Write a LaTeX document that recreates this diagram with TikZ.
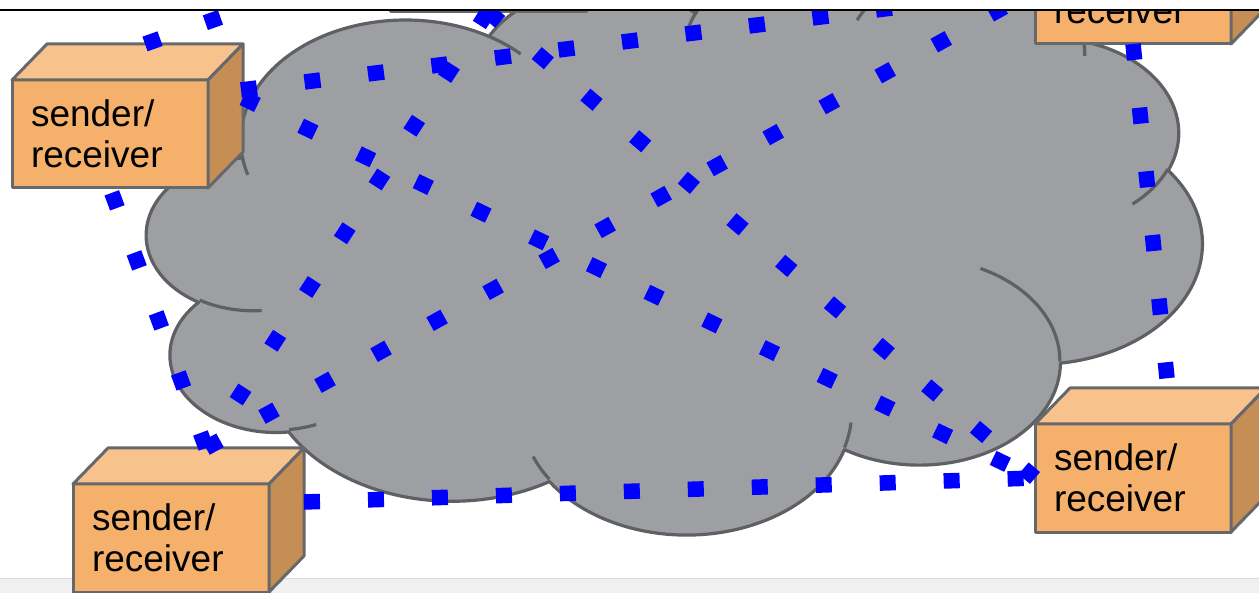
\documentclass[tikz,border=0pt]{standalone}
\usepackage{fontspec}
\setmainfont{Liberation Sans}
\usetikzlibrary{calc}

\definecolor{cloudfill}{HTML}{9E9FA3}
\definecolor{cloudline}{HTML}{5F6064}
\definecolor{boxfront}{HTML}{F5B16C}
\definecolor{boxtop}{HTML}{F7C28B}
\definecolor{boxside}{HTML}{C58E55}
\definecolor{boxline}{HTML}{67686B}
\definecolor{bandfill}{HTML}{F0F0F0}
\definecolor{bandline}{HTML}{DADADA}
\definecolor{linkblue}{HTML}{0000FF}

% OOXML-style arc: visual angles -> parametric angles
\newcommand\ooang[6]{%
  \pgfmathsetmacro\ootmpa{#5}%
  \pgfmathsetmacro\ootmpb{#5+#6}%
  \pgfmathsetmacro\ootmps{atan2(#3*sin(\ootmpa),#4*cos(\ootmpa))}%
  \pgfmathsetmacro\ootmpe{atan2(#3*sin(\ootmpb),#4*cos(\ootmpb))}%
  \pgfmathsetmacro\ootmpe{(\ootmpe<\ootmps)?(\ootmpe+360):(\ootmpe)}%
  \xdef#1{\ootmps}\xdef#2{\ootmpe}%
}

\tikzset{
  face/.style={draw=boxline, fill=boxfront, line width=3pt, minimum width=196pt,
    minimum height=108pt, inner sep=0pt, outer sep=0pt, anchor=north west,
    text width=158pt, align=left, font=\fontsize{37}{41}\selectfont, line join=round},
  topface/.style={draw=boxline, fill=boxtop, line width=3pt, line join=round},
  sideface/.style={draw=boxline, fill=boxside, line width=3pt, line join=round},
  link/.style={draw=linkblue, line width=15.5pt, dash pattern=on 16pt off 48pt, line cap=butt},
  cloudshape/.style={draw=cloudline, fill=cloudfill, line width=3.2pt, line join=round},
  cloudarc/.style={draw=cloudline, line width=3.2pt},
}

\newcommand\drawcube[4]{%
  \node[face] (#1) at (#2,#3) {#4};
  \draw[topface] (#1.north west) -- ++(35,-36) -- ++(196,0) -- (#1.north east) -- cycle;
  \draw[sideface] (#1.north east) -- ++(35,-36) -- ++(0,108) -- (#1.south east) -- cycle;
}

\begin{document}
\begin{tikzpicture}[x=1pt,y=-1pt]
\useasboundingbox (0,0) rectangle (1259,593);

% bottom band
\fill[bandfill] (-10,578) rectangle (1270,600);
\draw[bandline, line width=1.5pt] (-10,578.5) -- (1270,578.5);

% cloud (OOXML cloud geometry)
\ooang\oAs\oAe{67.53}{91.90}{-190.4875}{123.7805}
\ooang\oBs\oBe{53.33}{72.67}{-144.1024}{89.9452}
\ooang\oCs\oCe{43.65}{59.45}{-145.8079}{99.7230}
\ooang\oDs\oDe{48.57}{65.95}{-130.9861}{117.2417}
\ooang\oEs\oEe{53.33}{72.73}{-78.7089}{109.0269}
\ooang\oFs\oFe{67.75}{92.20}{-46.2673}{130.2690}
\ooang\oGs\oGe{57.85}{78.67}{0.6250}{114.0333}
\ooang\oHs\oHe{67.52}{92.15}{22.4516}{115.1726}
\ooang\oIs\oIe{77.20}{105.43}{66.2426}{75.7110}
\ooang\oJs\oJe{43.60}{59.18}{-274.9421}{146.7356}
\ooang\oKs\oKe{43.45}{59.45}{-246.8285}{152.5189}
\ooang\iAs\iAe{43.45}{59.45}{86.7420}{26.4295}
\ooang\iBs\iBe{43.60}{59.18}{73.6105}{11.4475}
\ooang\iCs\iCe{67.52}{92.15}{137.6242}{14.0811}
\ooang\iDs\iDe{67.52}{92.15}{6.4533}{15.9984}
\ooang\iEs\iEe{57.85}{78.67}{-70.2924}{70.9174}
\ooang\iFs\iFe{53.33}{72.73}{30.3180}{27.7515}
\ooang\iGs\iGe{48.57}{65.95}{-13.7443}{14.8589}
\ooang\iHs\iHe{48.57}{65.95}{-149.1815}{18.1954}
\ooang\iIs\iIe{43.65}{59.45}{-163.4943}{17.6864}
\ooang\iJs\iJe{67.53}{91.90}{-66.7070}{12.3194}
\ooang\iKs\iKe{67.53}{91.90}{157.6544}{11.8582}

\begin{scope}[shift={(147pt,31.5pt)}, x=1pt, y=1pt, xscale=2.44213, yscale=-1.30671]
\draw[cloudshape] (39.00,143.70)
  arc[start angle=\oAs, end angle=\oAe, x radius=67.53, y radius=91.90]
  arc[start angle=\oBs, end angle=\oBe, x radius=53.33, y radius=72.67]
  arc[start angle=\oCs, end angle=\oCe, x radius=43.65, y radius=59.45]
  arc[start angle=\oDs, end angle=\oDe, x radius=48.57, y radius=65.95]
  arc[start angle=\oEs, end angle=\oEe, x radius=53.33, y radius=72.73]
  arc[start angle=\oFs, end angle=\oFe, x radius=67.75, y radius=92.20]
  arc[start angle=\oGs, end angle=\oGe, x radius=57.85, y radius=78.67]
  arc[start angle=\oHs, end angle=\oHe, x radius=67.52, y radius=92.15]
  arc[start angle=\oIs, end angle=\oIe, x radius=77.20, y radius=105.43]
  arc[start angle=\oJs, end angle=\oJe, x radius=43.60, y radius=59.18]
  arc[start angle=\oKs, end angle=\oKe, x radius=43.45, y radius=59.45]
  -- cycle;
\draw[cloudarc]
  (46.93,261.77) arc[start angle=\iAs, end angle=\iAe, x radius=43.45, y radius=59.45]
  (69.28,348.99) arc[start angle=\iBs, end angle=\iBe, x radius=43.60, y radius=59.18]
  (164.78,390.90) arc[start angle=\iCs, end angle=\iCe, x radius=67.52, y radius=92.15]
  (288.27,347.51) arc[start angle=\iDs, end angle=\iDe, x radius=67.52, y radius=92.15]
  (341.29,229.54) arc[start angle=\iEs, end angle=\iEe, x radius=57.85, y radius=78.67]
  (417.98,153.54) arc[start angle=\iFs, end angle=\iFe, x radius=53.33, y radius=72.73]
  (383.24,54.26) arc[start angle=\iGs, end angle=\iGe, x radius=48.57, y radius=65.95]
  (290.78,39.52) arc[start angle=\iHs, end angle=\iHe, x radius=48.57, y radius=65.95]
  (221.41,47.20) arc[start angle=\iIs, end angle=\iIe, x radius=43.65, y radius=59.45]
  (140.00,51.92) arc[start angle=\iJs, end angle=\iJe, x radius=67.53, y radius=91.90]
  (41.27,157.89) arc[start angle=\iKs, end angle=\iKe, x radius=67.53, y radius=91.90];
\end{scope}

% sender/receiver cubes
\drawcube{b1}{12}{80}{sender/\\receiver}
\drawcube{b2}{73}{484}{sender/\\receiver}
\drawcube{b3}{1035}{-64}{sender/\\receiver}
\drawcube{b4}{1035}{424}{sender/\\receiver}
\drawcube{b5}{390}{-96.5}{}

% connection sites
\coordinate (b1t) at ($(b1.north)+(35,-36)$);
\coordinate (b1r) at ($(b1.east)+(35,-36)$);
\coordinate (b1q) at ($(b1.east)+(33,-44)$);
\coordinate (b1b) at (b1.south);
\coordinate (b2t) at ($(b2.north)+(35,-36)$);
\coordinate (b2r) at ($(b2.east)+(35,-36)$);
\coordinate (b3l) at (b3.west);
\coordinate (b3b) at (b3.south);
\coordinate (b4l) at (b4.west);
\coordinate (b4t) at ($(b4.north)+(35,-36)$);
\coordinate (b5b) at (b5.south);
\coordinate (b5l) at (b5.west);

% dotted links
\draw[link] (b2t) -- (b1b);
\draw[link] (b2r) -- (b4l);
\draw[link] (b3b) -- (b4t);
\draw[link] (b1r) -- (b4l);
\draw[link] (b2t) -- (b3l);
\draw[link] (b5b) -- (b2t);
\draw[link] (b5b) -- (b4l);
\draw[link] (b1t) -- (b5l);
\draw[link] (b1q) -- (b3l);

% top cover
\fill[white] (-20,-200) rectangle (1280,9.5);
\draw[black, line width=2pt] (-20,10) -- (1280,10);
\end{tikzpicture}
\end{document}
